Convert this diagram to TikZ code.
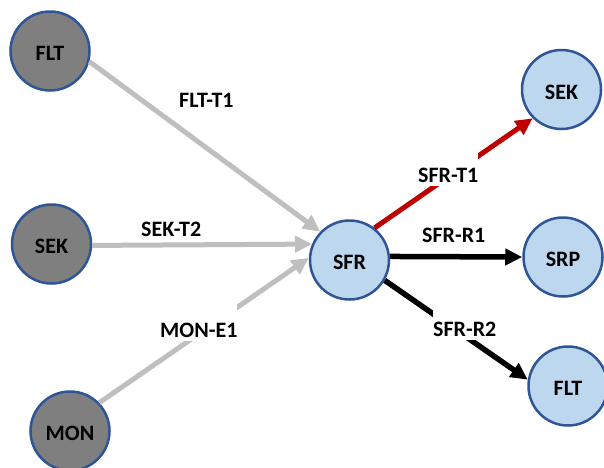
\documentclass[tikz,border=0pt]{standalone}
\usepackage{fontspec}
\setmainfont{Carlito}
\usetikzlibrary{arrows.meta}
\definecolor{nodeblue}{HTML}{BDD7EE}
\definecolor{nodegray}{HTML}{7F7F7F}
\definecolor{rimblue}{HTML}{2F5597}
\definecolor{edgegray}{HTML}{BFBFBF}
\definecolor{edgered}{HTML}{C00000}
\begin{document}
\begin{tikzpicture}[x=1pt,y=-1pt,
  every node/.style={font=\fontsize{22}{26}\selectfont\bfseries},
  vertex/.style={circle, draw=rimblue, line width=2.5pt, minimum size=79pt,
                 inner sep=0pt, text height=19.5pt},
  srcnode/.style={vertex, fill=nodegray},
  dstnode/.style={vertex, fill=nodeblue},
  link/.style={line width=5pt, -{Triangle[length=17pt,width=16pt]}},
  grayedge/.style={link, draw=edgegray},
  rededge/.style={link, draw=edgered},
  blackedge/.style={link, draw=black, line width=5.5pt},
  tag/.style={fill=white, inner sep=0pt, text height=38pt, text depth=4pt,
              anchor=base west}
]
\clip (0,0) rectangle (604,467);

% source states
\node[srcnode] (fltS) at (50,51)    {FLT};
\node[srcnode] (sekS) at (51.5,244) {SEK};
\node[srcnode] (monS) at (70,431)   {MON};

% central state and its targets
\node[dstnode] (sfr)  at (349.5,260) {SFR};
\node[dstnode] (sekD) at (561.5,89.5) {SEK};
\node[dstnode] (srp)  at (563,257)   {SRP};
\node[dstnode] (fltD) at (568,386)   {FLT};

% transitions
\draw[grayedge]  (fltS.-15) -- (sfr.136);
\draw[grayedge]  (sekS.-2)  -- (sfr.157);
\draw[grayedge]  (monS.44)  -- (sfr.177);
\draw[rededge]   (sfr.52)   -- (sekD.225);
\draw[blackedge] (sfr.5)    -- (srp.180);
\draw[blackedge] (sfr.-30)  -- (fltD.171);

% transition labels
\node[tag] (lFLT) at (179,107) {FLT-T1\hspace{12pt}};
\node[tag] (lSEK) at (141,236) {SEK-T2\hspace{12pt}};
\node[tag] (lMON) at (160,337) {MON-E1\hspace{14pt}};
\node[tag] (lT1)  at (418,182) {SFR-T1\hspace{12pt}};
\node[tag] (lR1)  at (422,242) {SFR-R1\hspace{12pt}};
\node[tag] (lR2)  at (433,336) {SFR-R2\hspace{12pt}};
\end{tikzpicture}
\end{document}
